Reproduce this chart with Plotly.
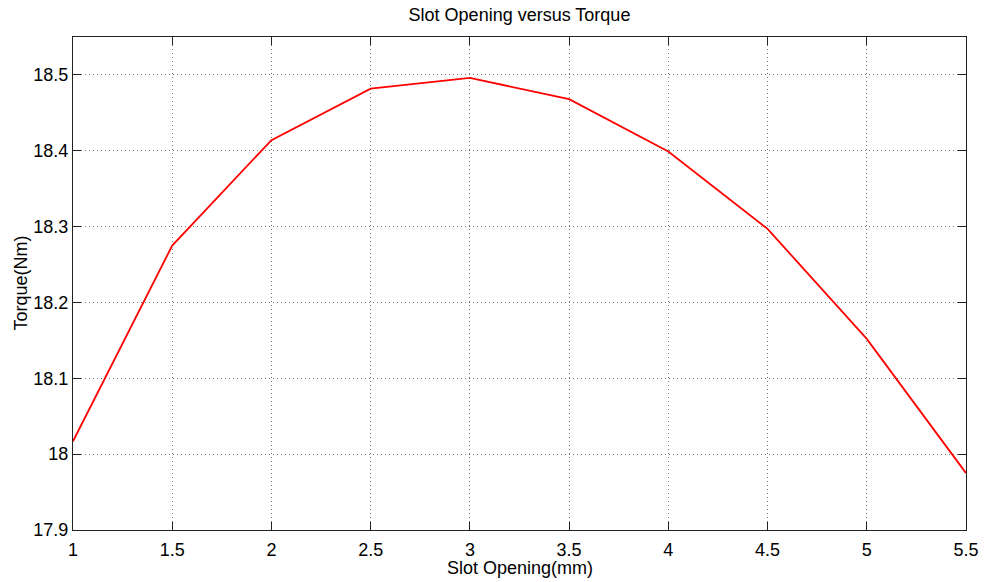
import plotly.graph_objects as go

slot_opening = [1.0, 1.5, 2.0, 2.5, 3.0, 3.5, 4.0, 4.5, 5.0, 5.5]
torque = [18.017, 18.275, 18.414, 18.482, 18.496, 18.468, 18.399, 18.297, 18.152, 17.975]

x_ticks = [1, 1.5, 2, 2.5, 3, 3.5, 4, 4.5, 5, 5.5]
x_tick_text = ["1", "1.5", "2", "2.5", "3", "3.5", "4", "4.5", "5", "5.5"]
y_ticks = [17.9, 18.0, 18.1, 18.2, 18.3, 18.4, 18.5]
y_tick_text = ["17.9", "18", "18.1", "18.2", "18.3", "18.4", "18.5"]

FONT = "Liberation Sans, Arial, sans-serif"

fig = go.Figure()
fig.add_trace(go.Scatter(
    x=slot_opening, y=torque, mode="lines",
    line=dict(color="#ff0000", width=1.8),
    showlegend=False,
))

axis_common = dict(
    showline=True, linecolor="#222", linewidth=1, mirror="ticks",
    ticks="inside", ticklen=8, tickcolor="#222", tickwidth=1,
    showgrid=True, gridcolor="#777", gridwidth=1, griddash="1px,3px",
    zeroline=False, automargin=False,
    tickfont=dict(family=FONT, size=18, color="#000"),
)

fig.update_layout(
    width=984, height=582,
    margin=dict(l=73, r=18, t=37, b=52, autoexpand=False),
    paper_bgcolor="white", plot_bgcolor="white",
    title=dict(text="Slot Opening versus Torque", x=0.5, xref="paper",
               y=1 - 15 / 582, yref="container", yanchor="middle", xanchor="center",
               font=dict(family=FONT, size=18, color="#000")),
    xaxis=dict(range=[1, 5.5], tickvals=x_ticks, ticktext=x_tick_text,
               ticklabelstandoff=3, **axis_common),
    yaxis=dict(range=[17.9, 18.55], tickvals=y_ticks, ticktext=y_tick_text, **axis_common),
    annotations=[
        dict(text="Slot Opening(mm)", xref="paper", yref="paper", x=0.5, y=0,
             yshift=-38, xanchor="center", yanchor="middle", showarrow=False,
             font=dict(family=FONT, size=18, color="#000")),
        dict(text="Torque(Nm)", xref="paper", yref="paper", x=0, y=0.5,
             xshift=-53, xanchor="center", yanchor="middle", showarrow=False, textangle=-90,
             font=dict(family=FONT, size=18, color="#000")),
    ],
)

fig.write_html("out.html", config={"displayModeBar": False},
               post_script="document.body.style.margin='0';")
